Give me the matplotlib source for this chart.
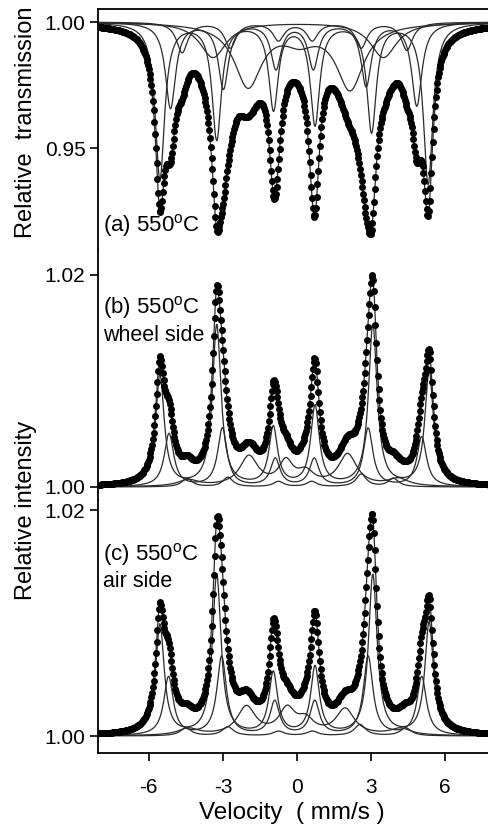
import numpy as np
import matplotlib
matplotlib.use('Agg')
import matplotlib.pyplot as plt

plt.rcParams['font.family'] = ['Liberation Sans', 'DejaVu Sans']
plt.rcParams['mathtext.fontset'] = 'custom'
plt.rcParams['mathtext.rm'] = 'Liberation Sans'

# velocity channels (mm/s)
vmin, vmax, nchan = -8.0, 8.0, 512

# (a) transmission - subspectra: line positions (mm/s), depths, widths
a_pos = [[-5.55, -3.25, -0.95, 0.73, 3.02, 5.31],
         [-5.12, -2.98, -0.85, 0.66, 2.80, 4.85],
         [-4.65, -2.70, -0.75, 0.62, 2.60, 4.45],
         [-1.98, 0.10, 2.15],
         [-3.40, 3.50]]
a_amp = [[0.062, 0.046, 0.034, 0.040, 0.043, 0.064],
         [0.034, 0.026, 0.018, 0.018, 0.025, 0.033],
         [0.012, 0.010, 0.007, 0.007, 0.010, 0.011],
         [0.025, 0.006, 0.026],
         [0.014, 0.014]]
a_wid = [[0.46] * 6,
         [0.50] * 6,
         [0.55] * 6,
         [1.35, 1.5, 1.35],
         [1.3, 1.3]]

# (b) wheel side - subspectra: line positions, heights, widths
b_pos = [[-5.55, -3.25, -0.96, 0.73, 3.07, 5.35],
         [-5.18, -3.02, -0.88, 0.70, 2.88, 5.05],
         [-4.45, -2.80, -0.75, 0.60, 2.60, 3.90],
         [-4.40, -1.95, -0.45, 0.35, 2.05, 4.10]]
b_amp = [[0.0105, 0.0152, 0.0055, 0.0075, 0.0152, 0.0108],
         [0.0050, 0.0055, 0.0026, 0.0026, 0.0055, 0.0047],
         [0.0008, 0.0009, 0.0005, 0.0005, 0.0012, 0.0008],
         [0.0006, 0.0028, 0.0022, 0.0012, 0.0030, 0.0007]]
b_wid = [[0.42] * 6,
         [0.46] * 6,
         [0.50] * 6,
         [1.0, 0.9, 0.7, 0.8, 0.9, 1.0]]

# (c) air side - subspectra: line positions, heights, widths
c_pos = [[-5.55, -3.25, -0.96, 0.73, 3.07, 5.35],
         [-5.20, -3.05, -0.90, 0.72, 2.88, 5.05],
         [-4.50, -2.80, -0.75, 0.62, 2.55, 4.40],
         [-4.40, -2.05, -0.40, 0.35, 1.95, 4.20]]
c_amp = [[0.0098, 0.0142, 0.0055, 0.0060, 0.0142, 0.0100],
         [0.0052, 0.0070, 0.0030, 0.0030, 0.0070, 0.0052],
         [0.0007, 0.0008, 0.0004, 0.0004, 0.0010, 0.0007],
         [0.0006, 0.0025, 0.0022, 0.0012, 0.0023, 0.0006]]
c_wid = [[0.42] * 6,
         [0.46] * 6,
         [0.55] * 6,
         [1.0, 0.9, 0.8, 0.8, 0.9, 1.0]]


def subspectrum(v, pos, amp, wid):
    s = np.zeros_like(v)
    for p, a, w in zip(pos, amp, wid):
        s += a * (w / 2) ** 2 / ((v - p) ** 2 + (w / 2) ** 2)
    return s


W, H = 488, 832
fig = plt.figure(figsize=(W / 100, H / 100), dpi=100)

# frame in pixels: left edge, x of 0 and pixels per mm/s
px_left, px_zero, px_per = 98, 297, 24.7
xl = ((px_left - px_zero) / px_per, 8.0)
px_right = px_zero + xl[1] * px_per


def make_axes(top, bot, y1, v1, y2, v2):
    ax = fig.add_axes([px_left / W, 1 - bot / H, (px_right - px_left) / W, (bot - top) / H])
    k = (v2 - v1) / (y2 - y1)
    ax.set_ylim(v1 + (bot - y1) * k, v1 + (top - y1) * k)
    ax.set_xlim(*xl)
    ax.patch.set_alpha(0)
    for s in ['top', 'right', 'bottom']:
        ax.spines[s].set_visible(False)
    ax.spines['left'].set_linewidth(1.3)
    ax.tick_params(direction='out', length=6, width=1.2, labelsize=15, pad=3)
    ax.set_xticks([])
    return ax


v = np.linspace(vmin, vmax, nchan)
lc = '#2a2a2a'
ms = 5.0

# (a)
ax_a = make_axes(9, 250, 22, 1.00, 148, 0.95)
ax_a.spines['top'].set_visible(True)
ax_a.spines['top'].set_linewidth(1.3)
tot = np.ones_like(v)
for p, a, w in zip(a_pos, a_amp, a_wid):
    s = subspectrum(v, p, a, w)
    tot -= s
    ax_a.plot(v, 1 - s, color=lc, lw=0.9)
ax_a.plot(v, tot, color=lc, lw=0.9)
ax_a.plot(v, tot, 'o', color='black', ms=ms, mew=0)
ax_a.set_yticks([0.95, 1.00])
ax_a.set_yticklabels(['0.95', '1.00'])
ax_a.text(-7.85, 0.9194, '(a) 550$^{\\mathregular{o}}$C', fontsize=16, va='center')

# (b)
ax_b = make_axes(250, 500, 487, 1.00, 275, 1.02)
tot = np.ones_like(v)
for p, a, w in zip(b_pos, b_amp, b_wid):
    s = subspectrum(v, p, a, w)
    tot += s
    ax_b.plot(v, 1 + s, color=lc, lw=0.9)
ax_b.plot(v, tot, color=lc, lw=0.9)
ax_b.plot(v, tot, 'o', color='black', ms=ms, mew=0)
ax_b.set_yticks([1.00, 1.02])
ax_b.set_yticklabels(['1.00', '1.02'])
ax_b.text(-7.85, 1.0169, '(b) 550$^{\\mathregular{o}}$C', fontsize=16, va='center')
ax_b.text(-7.85, 1.01425, 'wheel side', fontsize=15.5, va='center')

# (c)
ax_c = make_axes(500, 753, 736, 1.00, 510, 1.02)
ax_c.spines['bottom'].set_visible(True)
ax_c.spines['bottom'].set_linewidth(1.3)
tot = np.ones_like(v)
for p, a, w in zip(c_pos, c_amp, c_wid):
    s = subspectrum(v, p, a, w)
    tot += s
    ax_c.plot(v, 1 + s, color=lc, lw=0.9)
ax_c.plot(v, tot, color=lc, lw=0.9)
ax_c.plot(v, tot, 'o', color='black', ms=ms, mew=0)
ax_c.set_yticks([1.00, 1.02])
ax_c.set_yticklabels(['1.00', '1.02'])
ax_c.set_xticks([-6, -3, 0, 3, 6])
ax_c.set_xticklabels(['-6', '-3', '0', '3', '6'])
ax_c.tick_params(axis='x', pad=12)
ax_c.text(-7.85, 1.01602, '(c) 550$^{\\mathregular{o}}$C', fontsize=16, va='center')
ax_c.text(-7.85, 1.01363, 'air side', fontsize=15.5, va='center')

fig.text(26 / W, 1 - 122 / H, 'Relative  transmission', rotation=90, fontsize=17, ha='center', va='center')
fig.text(26 / W, 1 - 510 / H, 'Relative intensity', rotation=90, fontsize=17, ha='center', va='center')
fig.text(292 / W, 1 - 813 / H, 'Velocity  ( mm/s )', fontsize=17.5, ha='center', va='center')

fig.savefig('out.png', dpi=100)
